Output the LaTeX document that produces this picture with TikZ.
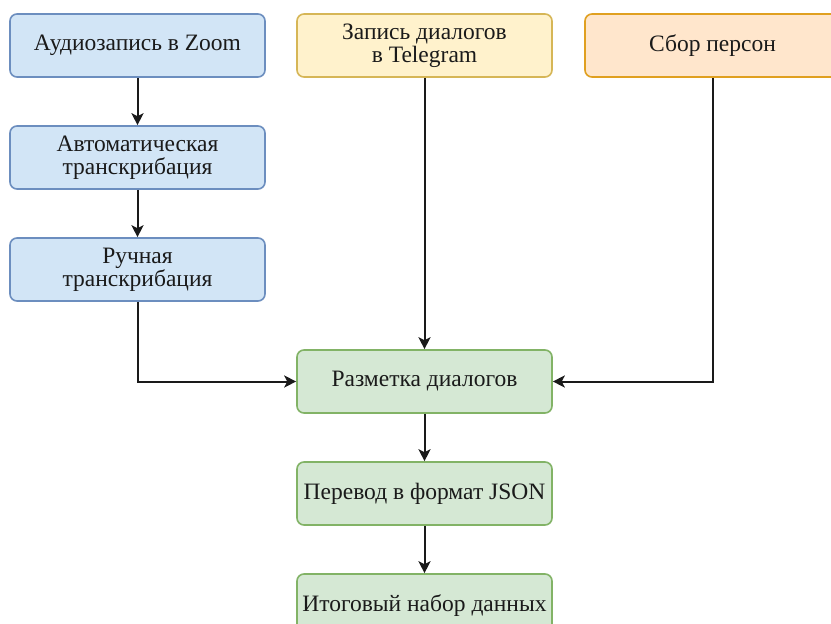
\documentclass[tikz,border=0pt]{standalone}
\usepackage{fontspec}
\setmainfont{Liberation Serif}
\usetikzlibrary{arrows.meta}
\definecolor{bluefill}{HTML}{D2E5F6}
\definecolor{bluedraw}{HTML}{6C8EBF}
\definecolor{yelfill}{HTML}{FFF2CC}
\definecolor{yeldraw}{HTML}{D6B656}
\definecolor{orfill}{HTML}{FFE6CC}
\definecolor{ordraw}{HTML}{E0A020}
\definecolor{grfill}{HTML}{D5E8D4}
\definecolor{grdraw}{HTML}{82B366}
\definecolor{ink}{HTML}{1A1A1A}
\begin{document}
\begin{tikzpicture}[x=1pt,y=-1pt,
  box/.style={rectangle, rounded corners=7pt, minimum width=255pt, minimum height=63pt,
    line width=1.6pt, inner sep=0pt, align=center, text=ink,
    font=\fontsize{23.5}{23}\selectfont},
  bluebox/.style={box, fill=bluefill, draw=bluedraw},
  yelbox/.style={box, fill=yelfill, draw=yeldraw},
  orbox/.style={box, fill=orfill, draw=ordraw},
  grbox/.style={box, fill=grfill, draw=grdraw},
  arr/.style={draw=ink, line width=2pt, -{Stealth[length=12pt,width=12pt,inset=3pt]}}
]
\useasboundingbox (0,0) rectangle (831,624);
\clip (0,0) rectangle (831,624);
\fill[white] (0,0) rectangle (831,624);

\node[bluebox] (b1) at (137.5,45.5) {Аудиозапись в Zoom};
\node[bluebox] (b2) at (137.5,157.5) {Автоматическая\\транскрибация};
\node[bluebox] (b3) at (137.5,269.5) {Ручная\\транскрибация};
\node[yelbox] (tg) at (424.5,45.5) {Запись диалогов\\в Telegram};
\node[orbox] (ps) at (712.5,45.5) {Сбор персон};
\node[grbox] (mk) at (424.5,381.5) {Разметка диалогов};
\node[grbox] (js) at (424.5,493.5) {Перевод в формат JSON};
\node[grbox] (fn) at (424.5,605.5) {Итоговый набор данных};

\draw[arr] (b1) -- (b2);
\draw[arr] (b2) -- (b3);
\draw[arr] (b3.south) |- (mk.west);
\draw[arr] (tg) -- (mk);
\draw[arr] (ps.south) |- (mk.east);
\draw[arr] (mk) -- (js);
\draw[arr] (js) -- (fn);
\end{tikzpicture}
\end{document}
